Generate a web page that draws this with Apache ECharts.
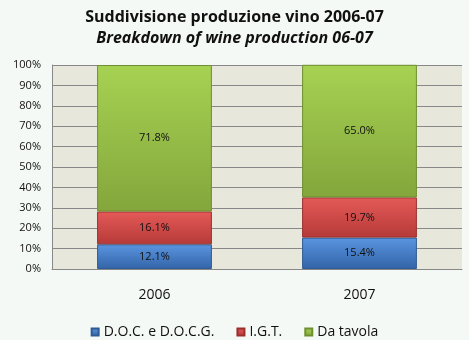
<!DOCTYPE html>
<html><head><meta charset="utf-8">
<script src="https://cdn.jsdelivr.net/npm/echarts@6/dist/echarts.min.js"></script>
<style>html,body{margin:0;padding:0;background:#f5f9f6}#c{width:469px;height:340px}</style>
</head><body><div id="c"></div>
<script>
const categories = ['2006', '2007'];
const docValues = [12.1, 15.4];
const igtValues = [16.1, 19.7];
const tavolaValues = [71.8, 65.0];
const seriesNames = ['D.O.C. e D.O.C.G.', 'I.G.T.', 'Da tavola'];

function grad(top, bottom) {
  return new echarts.graphic.LinearGradient(0, 0, 0, 1, [
    {offset: 0, color: top}, {offset: 1, color: bottom}
  ]);
}
const font = 'Open Sans, DejaVu Sans, sans-serif';
const labelCfg = {
  show: true, position: 'inside', color: '#111', fontSize: 11, fontFamily: font,
  formatter: p => p.value.toFixed(1) + '%'
};
const chart = echarts.init(document.getElementById('c'));
chart.setOption({
  backgroundColor: '#f5f9f6',
  animation: false,
  title: {
    text: 'Suddivisione produzione vino 2006-07',
    subtext: 'Breakdown of wine production 06-07',
    left: 'center', top: 4, itemGap: 5,
    textStyle: {fontSize: 16, fontWeight: 'bold', color: '#111', fontFamily: font},
    subtextStyle: {fontSize: 16, fontWeight: 'bold', fontStyle: 'italic', color: '#111', fontFamily: font}
  },
  legend: {
    top: 320, left: 'center', icon: 'rect', itemWidth: 7, itemHeight: 7, itemGap: 22,
    textStyle: {fontSize: 14, color: '#111', fontFamily: font},
    data: seriesNames
  },
  grid: {left: 52, right: 7, top: 65, bottom: 71, show: true, backgroundColor: '#e8e7dc', borderWidth: 0},
  xAxis: {
    type: 'category', data: categories,
    axisLine: {lineStyle: {color: '#888'}}, axisTick: {show: false},
    axisLabel: {fontSize: 14, color: '#111', margin: 19, fontFamily: font}
  },
  yAxis: {
    type: 'value', min: 0, max: 100, interval: 10,
    axisLine: {show: true, lineStyle: {color: '#888'}}, axisTick: {show: false},
    splitLine: {lineStyle: {color: '#888'}},
    axisLabel: {fontSize: 11, color: '#111', margin: 11, fontFamily: font, formatter: '{value}%'}
  },
  series: [
    {name: seriesNames[0], type: 'bar', stack: 's', data: docValues, barWidth: '56%',
     itemStyle: {color: grad('#5a95e0', '#3364a8'), borderColor: '#2f5a94', borderWidth: 1}, label: labelCfg},
    {name: seriesNames[1], type: 'bar', stack: 's', data: igtValues,
     itemStyle: {color: grad('#e45a58', '#b63a38'), borderColor: '#9a302e', borderWidth: 1}, label: labelCfg},
    {name: seriesNames[2], type: 'bar', stack: 's', data: tavolaValues,
     itemStyle: {color: grad('#a6d252', '#84a63c'), borderColor: '#6f8f30', borderWidth: 1}, label: labelCfg}
  ]
});
</script></body></html>
